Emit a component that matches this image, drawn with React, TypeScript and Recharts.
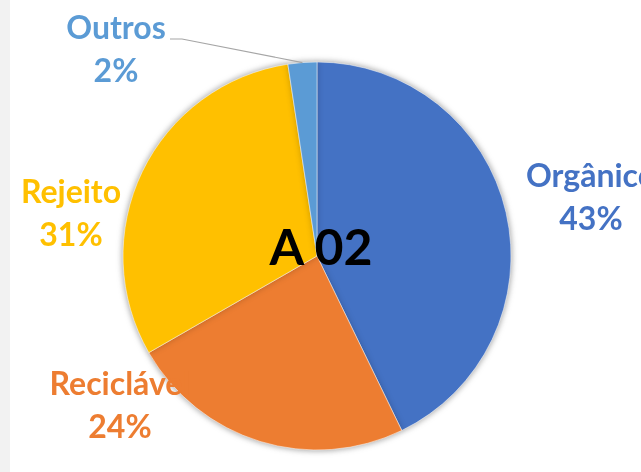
import { PieChart, Pie, Cell, Label } from "recharts";

// Waste composition, sample A 02
const CATEGORIES = ["Orgânico", "Reciclável", "Rejeito", "Outros"];
const VALUES = [42.8, 23.9, 30.9, 2.4];
const COLORS = ["#4472C4", "#ED7D31", "#FFC000", "#5B9BD5"];
const TITLE = "A 02";

// label anchor offsets from the pie centre (manually placed, like the source)
const LABEL_OFFSETS = [
  { dx: 274, dy: -69 },
  { dx: -197, dy: 139 },
  { dx: -246, dy: -53 },
  { dx: -201, dy: -217 },
];

const FONT = "Lato, 'Open Sans', sans-serif";
const RADIAN = Math.PI / 180;

const data = CATEGORIES.map((name, i) => ({ name, value: VALUES[i] }));

function renderLabel(props: any) {
  const { cx, cy, midAngle, outerRadius, index, percent } = props;
  const off = LABEL_OFFSETS[index];
  const x = cx + off.dx;
  const y = cy + off.dy;
  const pct = `${Math.round(percent * 100)}%`;
  let leader = null;
  if (CATEGORIES[index] === "Outros") {
    const ex = cx + outerRadius * Math.cos(-midAngle * RADIAN);
    const ey = cy + outerRadius * Math.sin(-midAngle * RADIAN);
    leader = (
      <polyline
        points={`${x + 54},${y} ${x + 66},${y} ${ex},${ey}`}
        fill="none"
        stroke="#A6A6A6"
        strokeWidth={1.2}
      />
    );
  }
  return (
    <g key={`lbl-${index}`}>
      {leader}
      <text
        x={x}
        y={y}
        textAnchor="middle"
        fill={COLORS[index]}
        fontFamily={FONT}
        fontWeight="bold"
        fontSize={32}
      >
        <tspan x={x} y={y}>
          {CATEGORIES[index]}
        </tspan>
        <tspan x={x} y={y + 43}>
          {pct}
        </tspan>
      </text>
    </g>
  );
}

export default function App() {
  return (
    <div
      style={{
        position: "absolute",
        left: 0,
        top: 0,
        width: 641,
        height: 472,
        background: "#fff",
        overflow: "hidden",
      }}
    >
      <style>{`.main-pie { filter: drop-shadow(0 0 3px rgba(0,0,0,0.22)); }`}</style>
      {/* light gray strip on the left edge */}
      <div
        style={{
          position: "absolute",
          left: 0,
          top: 0,
          width: 10,
          height: 472,
          background: "#F2F2F2",
        }}
      />
      <PieChart
        width={641}
        height={472}
        margin={{ top: 0, right: 0, bottom: 0, left: 0 }}
        style={{ position: "absolute", left: 0, top: 0 }}
      >
        {/* labels first so the slices are drawn over them */}
        <Pie
          data={data}
          dataKey="value"
          cx={317}
          cy={256}
          outerRadius={194}
          startAngle={90}
          endAngle={-270}
          fill="none"
          stroke="none"
          label={renderLabel}
          labelLine={false}
          isAnimationActive={false}
        >
          {data.map((d) => (
            <Cell key={d.name} fill="none" stroke="none" />
          ))}
        </Pie>
        <Pie
          className="main-pie"
          data={data}
          dataKey="value"
          cx={317}
          cy={256}
          outerRadius={194}
          startAngle={90}
          endAngle={-270}
          stroke="#fff"
          strokeWidth={0.5}
          isAnimationActive={false}
        >
          {data.map((d, i) => (
            <Cell key={d.name} fill={COLORS[i]} />
          ))}
          <Label
            position="center"
            content={(p: any) => {
              const vb = p.viewBox || {};
              return (
                <text
                  x={(vb.cx ?? 317) + 4}
                  y={(vb.cy ?? 256) + 9}
                  textAnchor="middle"
                  fontFamily={FONT}
                  fontWeight="bold"
                  fontSize={50}
                  fill="#000"
                >
                  {TITLE}
                </text>
              );
            }}
          />
        </Pie>
      </PieChart>
    </div>
  );
}
